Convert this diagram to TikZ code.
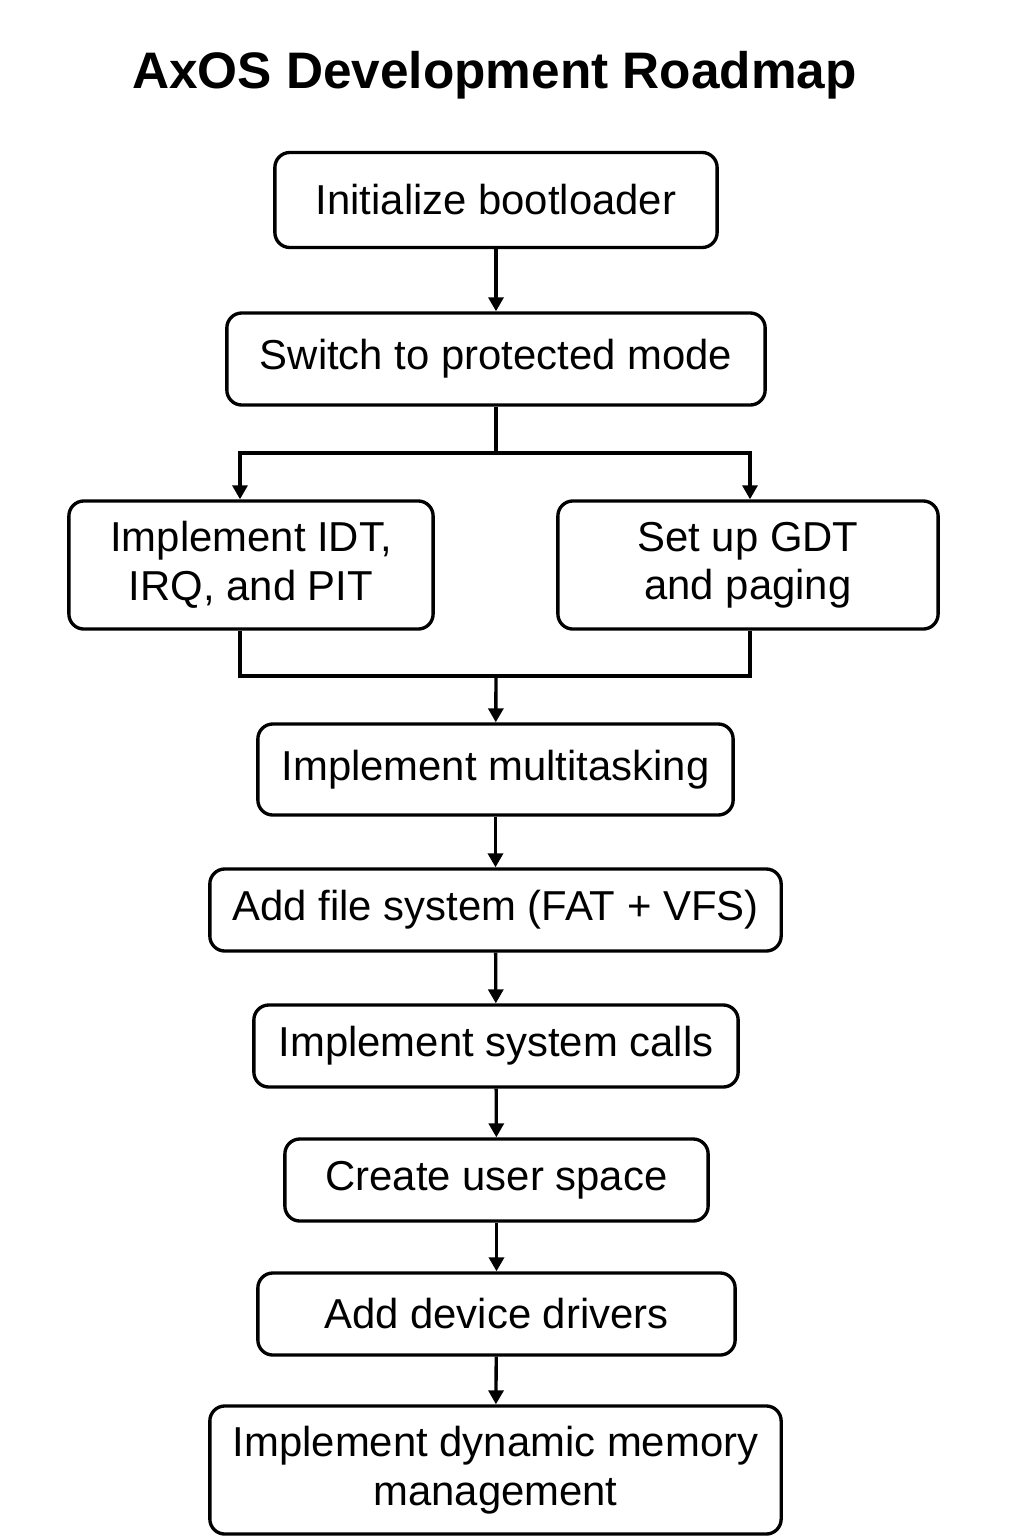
\documentclass[tikz,border=0pt]{standalone}
\usepackage{fontspec}
\setmainfont{Liberation Sans}
\usepackage{tikz}
\usetikzlibrary{arrows.meta, positioning}
\tikzset{
    stage/.style={draw, rectangle, rounded corners=0.15cm, line width=0.95pt, align=center, inner sep=0pt, font=\fontsize{11.9}{13.8}\selectfont},
    line/.style={-, line width=0.95pt},
    conn/.style={-{Triangle[width=0.15cm, length=0.14cm]}, line width=0.95pt},
}
\begin{document}
\begin{tikzpicture}[x=0.01cm, y=-0.01cm]
    \useasboundingbox (0,0) rectangle (1024,1536);

    \node [anchor=base, font=\fontsize{14.6}{16}\selectfont\bfseries] (title) at (494.5,88) {AxOS Development Roadmap};

    \node [stage, minimum width=4.42cm, minimum height=0.95cm] (boot) at (496,200) {Initialize bootloader};
    \node [stage, minimum width=5.38cm, minimum height=0.92cm] (prot) at (496,359) {Switch to protected mode};
    \node [stage, minimum width=3.64cm, minimum height=1.28cm] (idt) at (251,565) {Implement IDT,\\IRQ, and PIT};
    \node [stage, minimum width=3.80cm, minimum height=1.28cm] (gdt) at (748,565) {Set up GDT\\and paging};
    \node [stage, minimum width=4.75cm, minimum height=0.91cm] (multi) at (495.5,769.5) {Implement multitasking};
    \node [stage, minimum width=5.71cm, minimum height=0.82cm] (fs) at (495.5,910) {Add file system (FAT + VFS)};
    \node [stage, minimum width=4.84cm, minimum height=0.82cm] (sysc) at (496,1046) {Implement system calls};
    \node [stage, minimum width=4.23cm, minimum height=0.82cm] (user) at (496.5,1180) {Create user space};
    \node [stage, minimum width=4.77cm, minimum height=0.82cm] (drv) at (496.5,1314) {Add device drivers};
    \node [stage, minimum width=5.71cm, minimum height=1.28cm] (mem) at (495.5,1470) {Implement dynamic memory\\management};

    \coordinate (split) at (496,453);
    \coordinate (merge) at (496,676);

    \draw[conn] (boot) -- (prot);

    \draw[line] (prot) -- (split);
    \draw[conn] (split) -| ([xshift=-0.11cm]idt.north);
    \draw[conn] (split) -| ([xshift=0.02cm]gdt.north);

    \draw[line] ([xshift=-0.11cm]idt.south) |- (merge);
    \draw[line] ([xshift=0.02cm]gdt.south) |- (merge);
    \draw[conn] (merge) -- (multi);

    \draw[conn] (multi) -- (fs);
    \draw[conn] (fs) -- (sysc);
    \draw[conn] (sysc) -- (user);
    \draw[conn] (user) -- (drv);
    \draw[conn] (drv) -- (mem);
\end{tikzpicture}
\end{document}
